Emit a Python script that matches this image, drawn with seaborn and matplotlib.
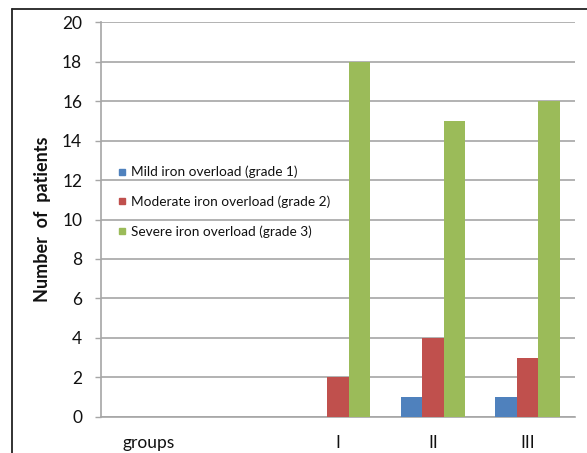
import matplotlib
matplotlib.use("Agg")
import matplotlib.pyplot as plt
import seaborn as sns
import pandas as pd
from matplotlib.lines import Line2D

# Categories along the x axis (the first slot carries the axis caption)
categories = ["groups", " ", "I", "II", "III"]
series_names = [
    "Mild iron overload (grade 1)",
    "Moderate iron overload (grade 2)",
    "Severe iron overload (grade 3)",
]
mild = [0, 0, 0, 1, 1]
moderate = [0, 0, 2, 4, 3]
severe = [0, 0, 18, 15, 16]
y_ticks = [0, 2, 4, 6, 8, 10, 12, 14, 16, 18, 20]

colors = ["#4F81BD", "#C0504D", "#9BBB59"]

rows = []
for name, vals in zip(series_names, [mild, moderate, severe]):
    for cat, v in zip(categories, vals):
        rows.append({"category": cat, "severity": name, "patients": v})
df = pd.DataFrame(rows)

sns.set_theme(style="white")
plt.rcParams["font.family"] = ["Lato", "DejaVu Sans"]
plt.rcParams["text.color"] = "#111111"
plt.rcParams["axes.labelcolor"] = "#111111"
plt.rcParams["xtick.labelcolor"] = "#111111"
plt.rcParams["ytick.labelcolor"] = "#111111"

fig = plt.figure(figsize=(5.87, 4.53), dpi=100)
ax = fig.add_axes([0.172, 0.0795, 0.8076, 0.8719])

sns.barplot(
    data=df, x="category", y="patients", hue="severity",
    order=categories, hue_order=series_names, palette=colors,
    saturation=1, width=0.68, linewidth=0, errorbar=None, ax=ax, zorder=3,
)

grid_color = "#a6a6a6"
ax.set_ylim(0, 20)
ax.set_yticks(y_ticks)
ax.set_yticklabels([str(t) for t in y_ticks], fontsize=12.5)
ax.yaxis.grid(True, color=grid_color, linewidth=1.2, zorder=0)
ax.set_axisbelow(True)
ax.tick_params(axis="y", length=4.5, width=1.0, color=grid_color, pad=9, left=True)
ax.tick_params(axis="x", length=0, pad=13, labelsize=12.5)

for side in ["top", "right"]:
    ax.spines[side].set_visible(False)
for side in ["left", "bottom"]:
    ax.spines[side].set_color(grid_color)
    ax.spines[side].set_linewidth(1.2)

ax.set_xlabel("")
ax.set_ylabel("Number  of  patients", fontsize=13, fontweight="bold", labelpad=8)

handles = [
    Line2D([0], [0], marker="s", linestyle="none", markersize=5,
           markerfacecolor=c, markeredgecolor=c)
    for c in colors
]
ax.legend(
    handles, series_names, loc="upper left", bbox_to_anchor=(0.015, 0.66),
    frameon=False, fontsize=9.8, labelspacing=1.25, handlelength=0.6,
    handletextpad=0.35, borderpad=0.2,
)

# Outer frame around the whole chart (left and top edges visible)
fig.add_artist(Line2D([12 / 587, 12 / 587], [0, 1 - 9 / 453],
                      transform=fig.transFigure, color="#222222", linewidth=1.3))
fig.add_artist(Line2D([12 / 587, 1], [1 - 9 / 453, 1 - 9 / 453],
                      transform=fig.transFigure, color="#222222", linewidth=1.3))

fig.savefig("out.png", dpi=100)
